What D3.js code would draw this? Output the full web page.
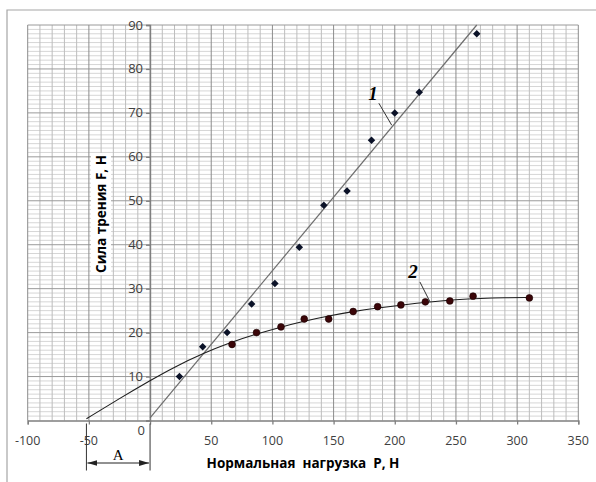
<!DOCTYPE html>
<html>
<head>
<meta charset="utf-8">
<script src="https://cdn.jsdelivr.net/npm/d3@7"></script>
<style>
  body { margin: 0; background: #fff; }
  svg { display: block; }
  .tick-label { font-family: "Open Sans", sans-serif; font-size: 12.5px; fill: #404040; }
  .axis-title { font-family: "Open Sans", sans-serif; font-size: 13.5px; font-weight: bold; fill: #000; }
  .curve-label { font-family: "Liberation Serif", serif; font-style: italic; font-weight: bold; font-size: 19px; }
</style>
</head>
<body>
<div id="chart"></div>
<script>
// tick labels
const xTicks = [-100, -50, 50, 100, 150, 200, 250, 300, 350];
const yTicks = [10, 20, 30, 40, 50, 60, 70, 80, 90];

// series 1 (diamonds)
const s1P = [24, 43, 63, 83, 102, 122, 142, 161, 181, 200, 220, 267];
const s1F = [10, 16.8, 20, 26.5, 31.2, 39.4, 49, 52.2, 63.8, 70, 74.7, 88];

// series 2 (circles)
const s2P = [67, 87, 107, 126, 146, 166, 186, 205, 225, 245, 264, 310];
const s2F = [17.3, 20, 21.3, 23.1, 23.1, 24.8, 25.9, 26.3, 27.0, 27.2, 28.3, 27.9];

// trend line 1 (straight)
const t1P = [0, 267];
const t1F = [0.6, 90];

// trend curve 2
const t2P = [-52, -25, 0, 20, 43.5, 65, 87, 106, 126, 146, 166, 186, 206, 229, 250, 270, 290, 310];
const t2F = [0.4, 5.0, 9.1, 12.2, 15.3, 17.7, 19.7, 21.2, 22.6, 23.8, 24.8, 25.6, 26.3, 27.0, 27.5, 27.8, 27.95, 28.0];

const W = 596, H = 482;
const svg = d3.select("#chart").append("svg").attr("width", W).attr("height", H);

const x = d3.scaleLinear().domain([-100, 350]).range([27.7, 578.3]);
const y = d3.scaleLinear().domain([0, 90]).range([420.5, 25]);

// outer frame (cropped on the right and bottom)
svg.append("path")
  .attr("d", `M7,${H} L7,10 L${W},10`)
  .attr("fill", "none")
  .attr("stroke", "#a6a6a6")
  .attr("stroke-width", 1.2);

// grid
const grid = svg.append("g");
grid.selectAll(".hmin")
  .data(d3.range(1, 91).filter(d => d % 10 !== 0))
  .join("line")
  .attr("x1", x(-100)).attr("x2", x(350))
  .attr("y1", d => y(d)).attr("y2", d => y(d))
  .attr("stroke", "#d6d6d6").attr("stroke-width", 1);
grid.selectAll(".vmin")
  .data(d3.range(-100, 351, 10).filter(d => d % 50 !== 0))
  .join("line")
  .attr("x1", d => x(d)).attr("x2", d => x(d))
  .attr("y1", y(0)).attr("y2", y(90))
  .attr("stroke", "#bdbdbd").attr("stroke-width", 1);
grid.selectAll(".hmaj")
  .data(yTicks)
  .join("line")
  .attr("x1", x(-100)).attr("x2", x(350))
  .attr("y1", d => y(d)).attr("y2", d => y(d))
  .attr("stroke", "#9a9a9a").attr("stroke-width", 1);
grid.selectAll(".vmaj")
  .data(d3.range(-100, 351, 50))
  .join("line")
  .attr("x1", d => x(d)).attr("x2", d => x(d))
  .attr("y1", y(0)).attr("y2", y(90))
  .attr("stroke", "#8c8c8c").attr("stroke-width", 1);

// axes
const xAxis = svg.append("g").attr("transform", `translate(0,${y(0)})`)
  .call(d3.axisBottom(x).tickValues(d3.range(-100, 351, 50)).tickSize(4).tickFormat(""));
const yAxis = svg.append("g").attr("transform", `translate(${x(0)},0)`)
  .call(d3.axisLeft(y).tickValues([0].concat(yTicks)).tickSize(4).tickFormat(""));
[xAxis, yAxis].forEach(a => {
  a.select(".domain").attr("stroke", "#7f7f7f").attr("stroke-width", 1.3);
  a.selectAll(".tick line").attr("stroke", "#7f7f7f").attr("stroke-width", 1.3);
});

svg.selectAll(".xl")
  .data(xTicks)
  .join("text")
  .attr("class", "tick-label")
  .attr("x", d => x(d))
  .attr("y", y(0) + 24)
  .attr("text-anchor", "middle")
  .text(d => d);
svg.selectAll(".yl")
  .data(yTicks)
  .join("text")
  .attr("class", "tick-label")
  .style("font-size", "13px")
  .attr("x", x(0) - 7)
  .attr("y", d => y(d) + 4.5)
  .attr("text-anchor", "end")
  .text(d => d);
svg.append("text")
  .attr("class", "tick-label")
  .style("font-size", "13px")
  .attr("x", x(0) - 5)
  .attr("y", y(0) + 14)
  .attr("text-anchor", "end")
  .text("0");

// axis titles
svg.append("text")
  .attr("class", "axis-title")
  .attr("x", 303)
  .attr("y", 468)
  .attr("text-anchor", "middle")
  .attr("xml:space", "preserve")
  .text("Нормальная  нагрузка  Р, Н");

const yt = svg.append("g").attr("transform", "translate(106,214) rotate(-90)");
const ytText = yt.append("text")
  .attr("class", "axis-title")
  .attr("text-anchor", "middle")
  .text("Сила трения F, Н");
const bb = ytText.node().getBBox();
yt.insert("rect", "text")
  .attr("x", bb.x - 2).attr("y", bb.y - 1)
  .attr("width", bb.width + 4).attr("height", bb.height + 2)
  .attr("fill", "#fff");

// trend lines
svg.append("path")
  .datum(d3.zip(t1P, t1F))
  .attr("d", d3.line().x(d => x(d[0])).y(d => y(d[1])))
  .attr("fill", "none")
  .attr("stroke", "#6e6e6e")
  .attr("stroke-width", 1.2);
svg.append("path")
  .datum(d3.zip(t2P, t2F))
  .attr("d", d3.line().x(d => x(d[0])).y(d => y(d[1])).curve(d3.curveBasis))
  .attr("fill", "none")
  .attr("stroke", "#1e1e1e")
  .attr("stroke-width", 1.1);

// markers
svg.selectAll(".dia")
  .data(d3.zip(s1P, s1F))
  .join("path")
  .attr("d", d3.symbol(d3.symbolDiamond2, 36))
  .attr("transform", d => `translate(${x(d[0])},${y(d[1])})`)
  .attr("fill", "#0b1228");
svg.selectAll(".dot")
  .data(d3.zip(s2P, s2F))
  .join("circle")
  .attr("cx", d => x(d[0]))
  .attr("cy", d => y(d[1]))
  .attr("r", 3.4)
  .attr("fill", "#3a0508")
  .attr("stroke", "#1a0000")
  .attr("stroke-width", 0.6);

// curve labels with leader lines
svg.append("text").attr("class", "curve-label")
  .attr("x", x(182.2)).attr("y", y(72.9)).attr("text-anchor", "middle").text("1");
svg.append("line")
  .attr("x1", x(187)).attr("y1", y(72.2)).attr("x2", x(197.5)).attr("y2", y(67.2))
  .attr("stroke", "#333").attr("stroke-width", 1);
svg.append("text").attr("class", "curve-label")
  .attr("x", x(214.9)).attr("y", y(32.4)).attr("text-anchor", "middle").text("2");
svg.append("line")
  .attr("x1", x(220.6)).attr("y1", y(31.5)).attr("x2", x(228.8)).attr("y2", y(27.0))
  .attr("stroke", "#333").attr("stroke-width", 1);

// dimension "A"
const defs = svg.append("defs");
["s", "e"].forEach(k => {
  defs.append("marker")
    .attr("id", "arr-" + k)
    .attr("viewBox", "0 0 10 6")
    .attr("refX", k === "e" ? 10 : 0).attr("refY", 3)
    .attr("markerWidth", 10).attr("markerHeight", 6)
    .attr("markerUnits", "userSpaceOnUse")
    .attr("orient", "auto")
    .append("path")
    .attr("d", k === "e" ? "M0,0 L10,3 L0,6 Z" : "M10,0 L0,3 L10,6 Z")
    .attr("fill", "#222");
});
const aL = x(t2P[0]), aR = x(0);
svg.selectAll(".aext")
  .data([aL, aR])
  .join("line")
  .attr("x1", d => d).attr("x2", d => d)
  .attr("y1", y(0) + 3).attr("y2", y(0) + 50)
  .attr("stroke", "#333").attr("stroke-width", 1);
svg.append("line")
  .attr("x1", aL + 1).attr("x2", aR - 1)
  .attr("y1", y(0) + 42.5).attr("y2", y(0) + 42.5)
  .attr("stroke", "#222").attr("stroke-width", 1)
  .attr("marker-start", "url(#arr-s)")
  .attr("marker-end", "url(#arr-e)");
svg.append("text")
  .attr("x", (aL + aR) / 2).attr("y", y(0) + 39)
  .attr("text-anchor", "middle")
  .attr("font-family", "Liberation Serif, serif")
  .attr("font-size", 15)
  .text("A");
</script>
</body>
</html>
